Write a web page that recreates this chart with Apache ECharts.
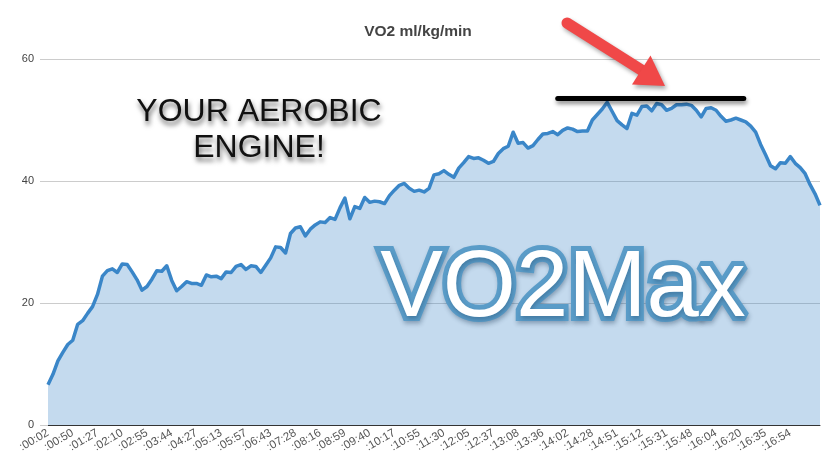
<!DOCTYPE html>
<html>
<head>
<meta charset="utf-8">
<script src="https://cdn.jsdelivr.net/npm/echarts@6/dist/echarts.min.js"></script>
<style>
html,body{margin:0;padding:0;background:#fff;}
#chart{width:836px;height:466px;}
</style>
</head>
<body>
<div id="chart"></div>
<script>
// Tick labels shown every 5th sample on the x axis
var tickLabels = [':00:02',':00:50',':01:27',':02:10',':02:55',':03:44',':04:27',':05:13',':05:57',':06:43',
  ':07:28',':08:16',':08:59',':09:40',':10:17',':10:55',':11:30',':12:05',':12:37',':13:08',
  ':13:36',':14:02',':14:28',':14:51',':15:12',':15:31',':15:48',':16:04',':16:20',':16:35',':16:54'];
var labelEvery = 5;

// VO2 ml/kg/min samples
var vo2 = [
  6.6, 8.3, 10.5, 11.9, 13.2, 13.9, 16.5, 17.1, 18.3, 19.4,
  21.4, 24.4, 25.3, 25.6, 25.0, 26.4, 26.3, 25.1, 23.8, 22.1,
  22.7, 23.9, 25.3, 25.2, 26.1, 23.7, 22.0, 22.7, 23.5, 23.2,
  23.2, 22.9, 24.6, 24.3, 24.4, 24.0, 25.1, 25.0, 26.0, 26.3,
  25.5, 26.1, 26.0, 25.0, 26.2, 27.4, 29.2, 29.1, 28.2, 31.4,
  32.3, 32.5, 31.0, 32.1, 32.8, 33.3, 33.2, 34.0, 33.7, 35.6,
  37.2, 33.8, 35.8, 35.5, 37.3, 36.5, 36.7, 36.6, 36.3, 37.6,
  38.5, 39.3, 39.6, 38.8, 38.3, 38.5, 38.2, 38.8, 41.0, 41.2,
  41.7, 41.1, 40.6, 42.1, 43.0, 44.0, 43.7, 43.8, 43.4, 42.9,
  43.2, 44.5, 45.3, 45.7, 48.0, 46.2, 46.3, 45.4, 45.8, 46.8,
  47.7, 47.8, 48.1, 47.6, 48.3, 48.7, 48.5, 48.1, 48.2, 48.2,
  50.0, 50.9, 51.8, 52.9, 51.4, 49.9, 49.2, 48.6, 51.1, 50.8,
  52.2, 52.3, 51.5, 52.7, 52.5, 51.6, 51.9, 52.5, 52.5, 52.6,
  52.4, 51.6, 50.5, 51.9, 52.0, 51.6, 50.6, 49.8, 50.0, 50.3,
  50.0, 49.7, 49.0, 48.0, 46.0, 44.3, 42.5, 42.0, 43.0, 42.9,
  44.0, 42.9, 42.2, 41.2, 39.4, 37.9, 36.0
];

// Plateau marker (sample index range and level)
var plateauStart = 103;
var plateauEnd = 140.6;
var plateauLevel = 53.5;

var yTicks = [0, 20, 40, 60];

var seriesData = vo2.map(function (v, i) { return [i, v]; });

var FONT = 'Liberation Sans, Arial, sans-serif';

var chart = echarts.init(document.getElementById('chart'), null, {renderer: 'canvas'});
chart.setOption({
  animation: false,
  backgroundColor: '#fff',
  title: {
    text: 'VO2 ml/kg/min',
    left: 'center',
    top: 19,
    textStyle: {fontFamily: FONT, fontSize: 15.5, fontWeight: 'bold', color: '#444'}
  },
  grid: {left: 48, right: 16, top: 59, bottom: 41},
  xAxis: {
    type: 'value',
    min: 0,
    max: vo2.length - 1,
    interval: labelEvery,
    splitLine: {show: false},
    axisTick: {show: false},
    axisLine: {show: true, lineStyle: {color: '#333', width: 1}},
    axisLabel: {
      rotate: 30,
      margin: 7,
      fontSize: 11.5,
      color: '#555',
      fontFamily: FONT,
      formatter: function (v) {
        if (v % labelEvery !== 0) return '';
        var k = v / labelEvery;
        return tickLabels[k] !== undefined ? tickLabels[k] : '';
      }
    }
  },
  yAxis: {
    type: 'value',
    min: yTicks[0],
    max: yTicks[yTicks.length - 1],
    interval: yTicks[1] - yTicks[0],
    axisLine: {show: false},
    axisTick: {show: true, length: 8, lineStyle: {color: '#ccc'}},
    splitLine: {show: true, lineStyle: {color: '#ccc', width: 1}},
    axisLabel: {margin: 14, fontSize: 11, color: '#444', fontFamily: FONT}
  },
  series: [{
    type: 'line',
    data: seriesData,
    showSymbol: false,
    symbol: 'none',
    lineStyle: {color: '#3a86c8', width: 3.5, join: 'round'},
    areaStyle: {color: '#3a86c8', opacity: 0.3},
    z: 2,
    markLine: {
      silent: true,
      symbol: ['none', 'none'],
      label: {show: false},
      lineStyle: {color: '#000', width: 5, type: 'solid', cap: 'round', shadowBlur: 4, shadowColor: 'rgba(0,0,0,0.45)', shadowOffsetY: 3, shadowOffsetX: 1},
      data: [[{coord: [plateauStart, plateauLevel]}, {coord: [plateauEnd, plateauLevel]}]]
    }
  }],
  graphic: [
    {
      type: 'text',
      x: 259, y: 130,
      z: 10,
      style: {
        text: 'YOUR AEROBIC\nENGINE!',
        fontFamily: FONT,
        fontSize: 32,
        lineHeight: 36,
        fill: '#111',
        align: 'center',
        verticalAlign: 'middle',
        textShadowColor: 'rgba(0,0,0,0.6)',
        textShadowBlur: 5,
        textShadowOffsetX: 1,
        textShadowOffsetY: 4,
        shadowColor: 'rgba(0,0,0,0.6)',
        shadowBlur: 5,
        shadowOffsetX: 1,
        shadowOffsetY: 4
      }
    },
    {
      type: 'text',
      x: 563, y: 290,
      z: 10,
      style: {
        text: 'VO2Max',
        fontFamily: FONT,
        fontSize: 94,
        fill: '#5a9cc8',
        stroke: '#5a9cc8',
        lineWidth: 10,
        lineJoin: 'round',
        align: 'center',
        verticalAlign: 'middle',
        textShadowColor: 'rgba(20,50,80,0.3)',
        textShadowBlur: 4,
        textShadowOffsetX: 1,
        textShadowOffsetY: 3,
        shadowColor: 'rgba(20,50,80,0.3)',
        shadowBlur: 4,
        shadowOffsetX: 1,
        shadowOffsetY: 3
      }
    },
    {
      type: 'text',
      x: 563, y: 290,
      z: 11,
      style: {
        text: 'VO2Max',
        fontFamily: FONT,
        fontSize: 94,
        fill: '#fff',
        align: 'center',
        verticalAlign: 'middle'
      }
    },
    {
      type: 'line',
      z: 12,
      shape: {x1: 567, y1: 23, x2: 643, y2: 71},
      style: {stroke: '#f04848', lineWidth: 11, lineCap: 'round', shadowColor: 'rgba(0,0,0,0.35)', shadowBlur: 4, shadowOffsetX: 2, shadowOffsetY: 3}
    },
    {
      type: 'polygon',
      z: 12,
      shape: {points: [[632, 84.5], [650.5, 55.5], [665, 86]]},
      style: {fill: '#f04848', lineJoin: 'round', shadowColor: 'rgba(0,0,0,0.35)', shadowBlur: 4, shadowOffsetX: 2, shadowOffsetY: 3}
    }
  ]
});
</script>
</body>
</html>
